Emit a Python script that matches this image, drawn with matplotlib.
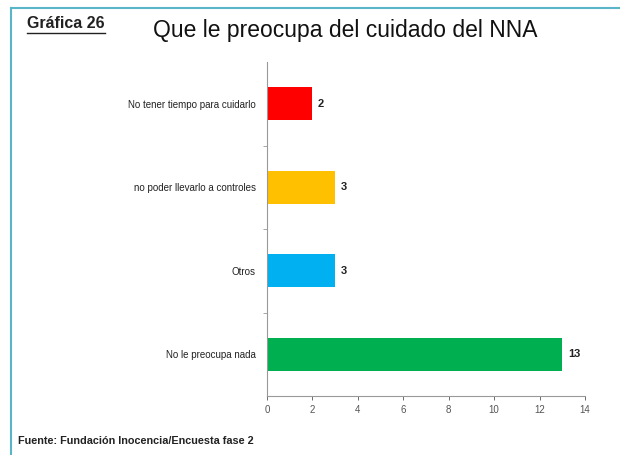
import matplotlib.pyplot as plt
from matplotlib.lines import Line2D

plt.rcParams['font.family'] = ['Liberation Sans', 'DejaVu Sans']

categorias = ["No le preocupa nada", "Otros", "no poder llevarlo a controles",
              "No tener tiempo para cuidarlo"]
valores = [13, 3, 3, 2]
colores = ["#00b050", "#00b0f0", "#ffc000", "#ff0000"]
ticks_x = [0, 2, 4, 6, 8, 10, 12, 14]

fig = plt.figure(figsize=(6.2, 4.55), dpi=100)
ax = fig.add_axes([267 / 620, 59 / 455, 318 / 620, 334 / 455])

pos = list(range(len(categorias)))
ax.barh(pos, valores, height=0.4, color=colores)
for p, v in zip(pos, valores):
    ax.text(v + 0.25, p, str(v), va="center", ha="left", fontsize=8,
            fontweight="bold", color="#222222")

ax.set_xlim(0, 14)
ax.set_ylim(-0.5, len(categorias) - 0.5)
ax.set_xticks(ticks_x)
ax.tick_params(axis="x", labelsize=7, colors="#555555", length=3, width=0.6,
               direction="out")
ax.set_yticks(pos)
ax.set_yticklabels(categorias, fontsize=7, color="#222222")
ax.tick_params(axis="y", length=0, pad=8)
ax.set_yticks([p + 0.5 for p in pos[:-1]], minor=True)
ax.tick_params(axis="y", which="minor", length=3, width=0.6, color="#999999")
for s in ["top", "right"]:
    ax.spines[s].set_visible(False)
for s in ["left", "bottom"]:
    ax.spines[s].set_color("#999999")
    ax.spines[s].set_linewidth(0.8)

fig.text(27 / 620, 1 - 24 / 455, "Gráfica 26", fontsize=11.5, fontweight="bold",
         va="center", ha="left", color="#222222")
fig.add_artist(Line2D([27 / 620, 105 / 620], [1 - 33 / 455, 1 - 33 / 455],
                      color="#222222", lw=1))
fig.text(345 / 620, 1 - 30 / 455, "Que le preocupa del cuidado del NNA",
         fontsize=16.5, va="center", ha="center", color="#111111")
fig.text(18 / 620, 1 - 441 / 455, "Fuente: Fundación Inocencia/Encuesta fase 2",
         fontsize=7.8, fontweight="bold", va="center", ha="left", color="#222222")

# marco
fig.add_artist(Line2D([11 / 620, 11 / 620], [0, 1 - 8 / 455], color="#5bb5c8", lw=1.5))
fig.add_artist(Line2D([11 / 620, 1], [1 - 8 / 455, 1 - 8 / 455], color="#5bb5c8", lw=1.5))

fig.savefig("out.png", dpi=100)
